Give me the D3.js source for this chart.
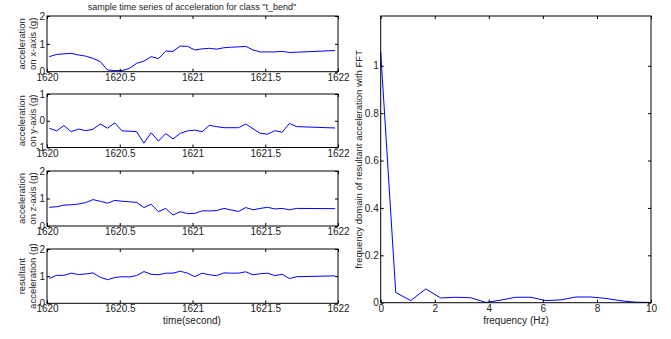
<!DOCTYPE html>
<html>
<head>
<meta charset="utf-8">
<script src="https://cdn.jsdelivr.net/npm/d3@7.9.0/dist/d3.min.js"></script>
<style>
  body { margin: 0; background: #fff; }
  svg text { font-family: "Liberation Sans", Arial, sans-serif; fill: #222; }
</style>
</head>
<body>
<div id="chart"></div>
<script>
// time stamps (seconds) of the samples
const times = [1620.016, 1620.066, 1620.116, 1620.166, 1620.216, 1620.266, 1620.316, 1620.366, 1620.416, 1620.466,
  1620.516, 1620.566, 1620.616, 1620.666, 1620.716, 1620.766, 1620.816, 1620.866, 1620.916, 1620.966,
  1621.016, 1621.066, 1621.116, 1621.166, 1621.216, 1621.266, 1621.316, 1621.366, 1621.416, 1621.466,
  1621.516, 1621.566, 1621.616, 1621.666, 1621.716, 1621.98];

const accX = [0.54, 0.62, 0.64, 0.66, 0.60, 0.56, 0.48, 0.36, 0.06, 0.04,
  0.04, 0.12, 0.30, 0.38, 0.54, 0.47, 0.74, 0.73, 0.92, 0.91,
  0.78, 0.82, 0.84, 0.81, 0.86, 0.88, 0.89, 0.91, 0.78, 0.71,
  0.71, 0.71, 0.73, 0.69, 0.70, 0.76];

const accY = [-0.28, -0.38, -0.18, -0.41, -0.31, -0.37, -0.32, -0.12, -0.28, -0.08,
  -0.38, -0.39, -0.41, -0.84, -0.45, -0.76, -0.48, -0.68, -0.47, -0.38,
  -0.35, -0.41, -0.17, -0.22, -0.26, -0.26, -0.26, -0.12, -0.30, -0.47,
  -0.50, -0.37, -0.43, -0.10, -0.22, -0.27];

const accZ = [0.68, 0.70, 0.76, 0.77, 0.80, 0.85, 0.96, 0.90, 0.83, 0.93,
  0.90, 0.88, 0.86, 0.67, 0.79, 0.52, 0.64, 0.40, 0.52, 0.45,
  0.46, 0.55, 0.55, 0.56, 0.64, 0.58, 0.53, 0.67, 0.59, 0.64,
  0.68, 0.62, 0.64, 0.59, 0.64, 0.63];

const accRes = [0.92, 1.03, 1.03, 1.11, 1.06, 1.08, 1.12, 0.96, 0.87, 0.95,
  0.98, 0.97, 1.02, 1.17, 1.07, 1.05, 1.11, 1.11, 1.18, 1.11,
  0.98, 1.11, 1.05, 1.02, 1.12, 1.11, 1.11, 1.16, 1.05, 1.09,
  1.11, 1.02, 1.07, 0.91, 0.98, 1.01];

// FFT of resultant acceleration
const freqs = [0, 0.556, 1.111, 1.667, 2.222, 2.778, 3.333, 3.889, 4.444, 5.0,
  5.556, 6.111, 6.667, 7.222, 7.778, 8.333, 8.889, 9.444, 10];
const fftMag = [1.06, 0.043, 0.009, 0.058, 0.020, 0.023, 0.021, 0.001, 0.011, 0.023,
  0.023, 0.009, 0.012, 0.024, 0.024, 0.018, 0.008, 0.002, 0.001];

const timeTicks = [1620, 1620.5, 1621, 1621.5, 1622];
const freqTicks = [0, 2, 4, 6, 8, 10];
const fftYTicks = [0, 0.2, 0.4, 0.6, 0.8, 1];

const W = 671, H = 339;
const svg = d3.select("#chart").append("svg")
  .attr("width", W).attr("height", H);

function drawPanel(cfg) {
  const x = d3.scaleLinear().domain(cfg.xDomain).range([cfg.left, cfg.right]);
  const y = d3.scaleLinear().domain(cfg.yDomain).range([cfg.bottom, cfg.top]);
  const g = svg.append("g");
  const fmt = d => String(d);

  // data line
  g.append("path")
    .datum(cfg.xs.map((v, i) => [v, cfg.ys[i]]))
    .attr("fill", "none")
    .attr("stroke", "#0000ff")
    .attr("stroke-width", 1)
    .attr("d", d3.line().x(d => x(d[0])).y(d => y(d[1])));

  // axes with inward ticks (matlab style), mirrored on top/right
  const axes = [
    [d3.axisBottom(x).tickValues(cfg.xTicks).tickFormat(fmt), `translate(0,${cfg.bottom})`, true],
    [d3.axisTop(x).tickValues(cfg.xTicks).tickFormat(""), `translate(0,${cfg.top})`, false],
    [d3.axisLeft(y).tickValues(cfg.yTicks).tickFormat(fmt), `translate(${cfg.left},0)`, true],
    [d3.axisRight(y).tickValues(cfg.yTicks).tickFormat(""), `translate(${cfg.right},0)`, false]
  ];
  axes.forEach(([ax, tr]) => {
    const a = g.append("g")
      .attr("transform", tr)
      .call(ax.tickSizeInner(-3).tickSizeOuter(0).tickPadding(2));
    a.select(".domain").remove();
    a.selectAll("line").attr("stroke", "#000");
    a.selectAll("text")
      .attr("font-size", 10)
      .attr("font-family", "'Liberation Sans', Arial, sans-serif")
      .attr("fill", "#222");
  });

  g.append("rect")
    .attr("x", cfg.left).attr("y", cfg.top)
    .attr("width", cfg.right - cfg.left).attr("height", cfg.bottom - cfg.top)
    .attr("fill", "none").attr("stroke", "#000").attr("stroke-width", 1);

  // y label, one or two lines, rotated
  const mid = (cfg.top + cfg.bottom) / 2;
  cfg.yLabel.forEach((line, i) => {
    svg.append("text")
      .attr("transform", `translate(${cfg.yLabelX[i]},${mid}) rotate(-90)`)
      .attr("text-anchor", "middle")
      .attr("dy", "0.35em")
      .attr("font-size", 9.5)
      .text(line);
  });
  return { x, y };
}

const L = 47, R = 338;

drawPanel({ xs: times, ys: accX, xDomain: [1620, 1622], yDomain: [0, 2],
  left: L, right: R, top: 16, bottom: 71.7, xTicks: timeTicks, yTicks: [0, 1, 2],
  yLabel: ["acceleration", "on x-axis (g)"], yLabelX: [21.5, 32.5] });

drawPanel({ xs: times, ys: accY, xDomain: [1620, 1622], yDomain: [-1, 1],
  left: L, right: R, top: 94, bottom: 147.5, xTicks: timeTicks, yTicks: [-1, 0, 1],
  yLabel: ["acceleration", "on y-axis (g)"], yLabelX: [21.5, 32.5] });

drawPanel({ xs: times, ys: accZ, xDomain: [1620, 1622], yDomain: [0, 2],
  left: L, right: R, top: 171, bottom: 226, xTicks: timeTicks, yTicks: [0, 1, 2],
  yLabel: ["acceleration", "on z-axis (g)"], yLabelX: [21.5, 32.5] });

drawPanel({ xs: times, ys: accRes, xDomain: [1620, 1622], yDomain: [0, 2],
  left: L, right: R, top: 249, bottom: 303.3, xTicks: timeTicks, yTicks: [0, 1, 2],
  yLabel: ["resultant", "acceleration (g)"], yLabelX: [21.5, 32.5] });

drawPanel({ xs: freqs, ys: fftMag, xDomain: [0, 10], yDomain: [0, 1.21],
  left: 380.7, right: 651, top: 16, bottom: 302.7, xTicks: freqTicks, yTicks: fftYTicks,
  yLabel: ["frequency domain of resultant acceleration with FFT"], yLabelX: [359] });

// titles and x labels
svg.append("text")
  .attr("x", 192).attr("y", 10)
  .attr("text-anchor", "middle")
  .attr("font-size", 9)
  .text('sample time series of acceleration for class "t_bend"');

svg.append("text")
  .attr("x", 192).attr("y", 324)
  .attr("text-anchor", "middle")
  .attr("font-size", 10)
  .text("time(second)");

svg.append("text")
  .attr("x", 516).attr("y", 323.5)
  .attr("text-anchor", "middle")
  .attr("font-size", 10)
  .text("frequency (Hz)");
</script>
</body>
</html>
